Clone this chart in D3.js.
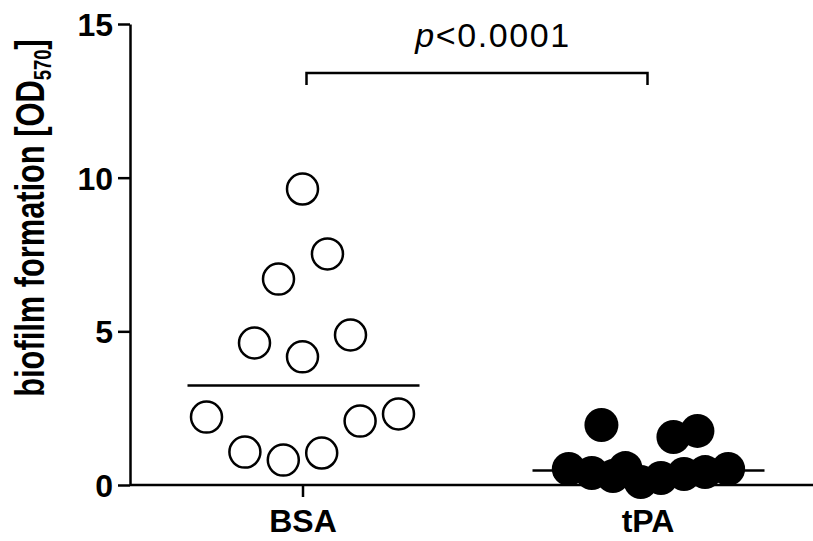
<!DOCTYPE html>
<html>
<head>
<meta charset="utf-8">
<script src="https://cdn.jsdelivr.net/npm/d3@7"></script>
<style>
body { margin: 0; background: #fff; }
text { font-family: "Liberation Sans", Arial, sans-serif; fill: #000; }
.tick text { font-weight: bold; font-size: 32px; }
.domain, .tick line { stroke: #000; stroke-width: 2.5px; }
</style>
</head>
<body>
<svg id="chart" width="813" height="541"></svg>
<script>
// groups
var categories = ["BSA", "tPA"];

// values, with the column slot GraphPad put each dot in
var bsaValues = [9.63, 7.52, 6.70, 4.62, 4.17, 4.88, 2.21, 1.07, 0.81, 1.04, 2.08, 2.31];
var bsaSlots  = [0, 1.3, -1.25, -2.5, 0, 2.5, -5, -3, -1, 1, 3, 5];

var tpaValues = [1.95, 1.56, 1.76, 0.52, 0.39, 0.29, 0.55, 0.10, 0.23, 0.36, 0.42, 0.52];
var tpaSlots  = [-2.4, 1.35, 2.6, -4.1, -2.9, -1.8, -1.15, -0.35, 0.7, 1.9, 3.0, 4.2];

// median lines
var medians = [3.24, 0.47];

var yTicks = [0, 5, 10, 15];
var pLabel = "<0.0001";

var svg = d3.select("#chart");

var x = d3.scalePoint().domain(categories).range([130, 820]).padding(0.5);
var y = d3.scaleLinear().domain([0, 15]).range([485, 24]);
var slot = d3.scaleLinear().domain([0, 1]).range([0, 19.2]);

// y axis
svg.append("g")
	.attr("transform", "translate(130,0)")
	.call(d3.axisLeft(y).tickValues(yTicks).tickSize(12).tickSizeOuter(0).tickPadding(5))
	.selectAll(".tick text").attr("dy", "0.36em");

// x axis
var xa = svg.append("g")
	.attr("transform", "translate(0,485)")
	.call(d3.axisBottom(x).tickSize(12).tickSizeOuter(0).tickPadding(6));
xa.select(".domain").attr("d", "M130,0H813");
xa.selectAll(".tick text").attr("dy", "0.9em");

// y label (condensed, like the original)
svg.append("text")
	.attr("transform", "translate(44,218) rotate(-90) scale(0.77,1)")
	.attr("text-anchor", "middle")
	.style("font-weight", "bold")
	.style("font-size", "40px")
	.call(function(t) {
		t.append("tspan").text("biofilm formation [OD");
		t.append("tspan").text("570").style("font-size", "24px").attr("dy", 7);
		t.append("tspan").text("]").attr("dy", -7);
	});

// BSA: open circles
svg.append("g").selectAll("circle")
	.data(bsaValues)
	.enter()
	.append("circle")
		.attr("cx", (d, i) => x("BSA") + slot(bsaSlots[i]))
		.attr("cy", d => y(d))
		.attr("r", 15.5)
		.attr("fill", "#fff")
		.attr("stroke", "#000")
		.attr("stroke-width", 2.5);

// median lines (drawn under the filled dots)
svg.append("g").selectAll("line")
	.data(medians)
	.enter()
	.append("line")
		.attr("x1", (d, i) => x(categories[i]) - 115)
		.attr("x2", (d, i) => x(categories[i]) + 117)
		.attr("y1", d => y(d))
		.attr("y2", d => y(d))
		.attr("stroke", "#000")
		.attr("stroke-width", 2.5);

// tPA: filled circles
svg.append("g").selectAll("circle")
	.data(tpaValues)
	.enter()
	.append("circle")
		.attr("cx", (d, i) => x("tPA") + slot(tpaSlots[i]))
		.attr("cy", d => y(d))
		.attr("r", 17)
		.attr("fill", "#000");

// significance bracket
var bx1 = x("BSA") + 4, bx2 = x("tPA"), by = 73;
svg.append("path")
	.attr("d", "M" + bx1 + "," + (by + 12) + "V" + by + "H" + bx2 + "V" + (by + 12))
	.attr("fill", "none")
	.attr("stroke", "#000")
	.attr("stroke-width", 2.5);

svg.append("text")
	.attr("x", (bx1 + bx2) / 2 + 16)
	.attr("y", 47)
	.attr("text-anchor", "middle")
	.style("font-size", "34px")
	.style("letter-spacing", "1.6px")
	.call(function(t) {
		t.append("tspan").text("p").style("font-style", "italic");
		t.append("tspan").text(pLabel);
	});
</script>
</body>
</html>
